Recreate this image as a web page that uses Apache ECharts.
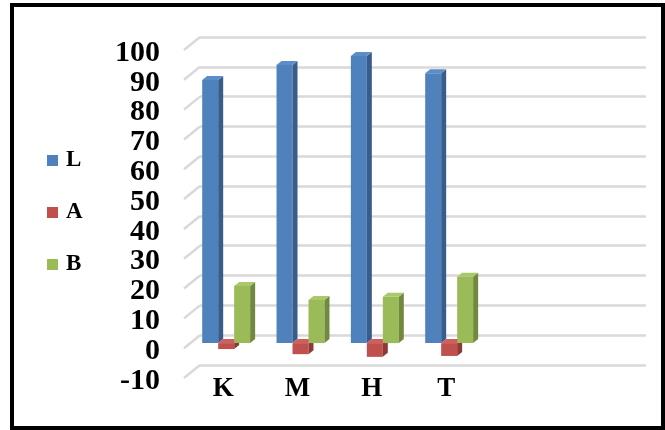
<!DOCTYPE html>
<html>
<head>
<meta charset="utf-8">
<script src="https://cdn.jsdelivr.net/npm/echarts@6/dist/echarts.min.js"></script>
<style>
html, body { margin: 0; padding: 0; background: #fff; }
#chart { width: 665px; height: 430px; }
</style>
</head>
<body>
<div id="chart"></div>
<script>
'use strict';

var categories = ['K', 'M', 'H', 'T'];
var seriesNames = ['L', 'A', 'B'];
var valuesL = [88, 93, 96, 90.2];
var valuesA = [-2, -3.7, -4.6, -4.3];
var valuesB = [19.1, 14.4, 15.5, 22.2];
var yTicks = [-10, 0, 10, 20, 30, 40, 50, 60, 70, 80, 90, 100];

// front, side, top
var faceColors = [
    ['#4f81bd', '#385d8a', '#5b8dc9'],
    ['#c0504d', '#8c3a38', '#cf5f5c'],
    ['#9bbb59', '#71893f', '#a9c86a']
];

var DEPTH_X = 5;
var DEPTH_Y = -4;

function makeBar3d(idx) {
    var colors = faceColors[idx];
    return function (params, api) {
        var cat = api.value(0);
        var val = api.value(1);
        var base = api.coord([cat, 0]);
        var tip = api.coord([cat, val]);
        var catW = api.size([1, 0])[0];
        var bw = catW * 0.215;
        var x = base[0] - bw * 1.5 - 1 + idx * bw;
        var y0 = Math.min(base[1], tip[1]);
        var y1 = Math.max(base[1], tip[1]);
        return {
            type: 'group',
            children: [
                {
                    type: 'rect',
                    shape: { x: x, y: y0, width: bw, height: y1 - y0 },
                    style: { fill: colors[0] }
                },
                {
                    type: 'polygon',
                    shape: { points: [[x + bw, y0], [x + bw + DEPTH_X, y0 + DEPTH_Y], [x + bw + DEPTH_X, y1 + DEPTH_Y], [x + bw, y1]] },
                    style: { fill: colors[1] }
                },
                {
                    type: 'polygon',
                    shape: { points: [[x, y0], [x + DEPTH_X, y0 + DEPTH_Y], [x + bw + DEPTH_X, y0 + DEPTH_Y], [x + bw, y0]] },
                    style: { fill: colors[2] }
                }
            ]
        };
    };
}

function pairs(arr) {
    var out = [];
    for (var i = 0; i < arr.length; i++) {
        out.push([i, arr[i]]);
    }
    return out;
}

var axisCats = categories.concat(['', '']);
var serifFont = '"Liberation Serif", "Times New Roman", serif';

var chart = echarts.init(document.getElementById('chart'));

var seriesValues = [valuesL, valuesA, valuesB];
var barSeries = [];
for (var s = 0; s < seriesNames.length; s++) {
    barSeries.push({
        name: seriesNames[s],
        type: 'custom',
        xAxisIndex: 0,
        yAxisIndex: 0,
        itemStyle: { color: faceColors[s][0] },
        renderItem: makeBar3d(s),
        encode: { x: 0, y: 1 },
        data: pairs(seriesValues[s]),
        z: 5
    });
}

// slanted side-wall lines joining the front edge to the back wall gridlines
var wallSeries = {
    type: 'custom',
    xAxisIndex: 1,
    yAxisIndex: 1,
    silent: true,
    renderItem: function (params, api) {
        var p = api.coord([0, api.value(1)]);
        var left = params.coordSys.x;
        return {
            type: 'line',
            shape: { x1: left - 16, y1: p[1] + 13, x2: left, y2: p[1] },
            style: { stroke: '#d9d9d9', lineWidth: 2.5 }
        };
    },
    encode: { x: 0, y: 1 },
    data: yTicks.map(function (v) { return [0, v]; }),
    z: 1
};

var option = {
    animation: false,
    backgroundColor: '#fff',
    legend: {
        data: seriesNames,
        orient: 'vertical',
        left: 42,
        top: 144,
        icon: 'rect',
        itemWidth: 11,
        itemHeight: 11,
        itemGap: 29,
        textStyle: { fontFamily: serifFont, fontWeight: 'bold', fontSize: 23, color: '#000', padding: [0, 0, 0, 3] }
    },
    grid: [
        { left: 190, right: 29, top: 44, bottom: 57 },
        { left: 200, right: 19, top: 37, bottom: 65 },
        { left: 190, right: 29, top: 53, bottom: 49 }
    ],
    xAxis: [
        {
            type: 'category',
            gridIndex: 0,
            data: axisCats,
            axisLine: { show: false },
            axisTick: { show: false },
            axisLabel: {
                margin: 3,
                padding: [0, 8, 0, 0],
                fontFamily: serifFont,
                fontWeight: 'bold',
                fontSize: 27,
                color: '#000'
            }
        },
        { type: 'category', gridIndex: 1, data: axisCats, show: false },
        { type: 'category', gridIndex: 2, data: axisCats, show: false }
    ],
    yAxis: [
        {
            type: 'value',
            gridIndex: 0,
            min: -10,
            max: 100,
            interval: 10,
            show: false
        },
        {
            type: 'value',
            gridIndex: 1,
            min: -10,
            max: 100,
            interval: 10,
            axisLine: { show: false },
            axisTick: { show: false },
            axisLabel: { show: false },
            splitLine: { lineStyle: { color: '#d9d9d9', width: 2.5 } }
        },
        {
            // tick labels sit a little lower than the bar plane
            type: 'value',
            gridIndex: 2,
            min: -10,
            max: 100,
            interval: 10,
            splitLine: { show: false },
            axisLine: { show: false },
            axisTick: { show: false },
            axisLabel: {
                margin: 30,
                fontFamily: serifFont,
                fontWeight: 'bold',
                fontSize: 30,
                color: '#000'
            }
        }
    ],
    graphic: [
        {
            type: 'rect',
            shape: { x: 12, y: 5, width: 651, height: 423 },
            style: { fill: 'none', stroke: '#000', lineWidth: 4 },
            silent: true,
            z: 100
        }
    ],
    series: [wallSeries].concat(barSeries)
};

chart.setOption(option);
</script>
</body>
</html>
